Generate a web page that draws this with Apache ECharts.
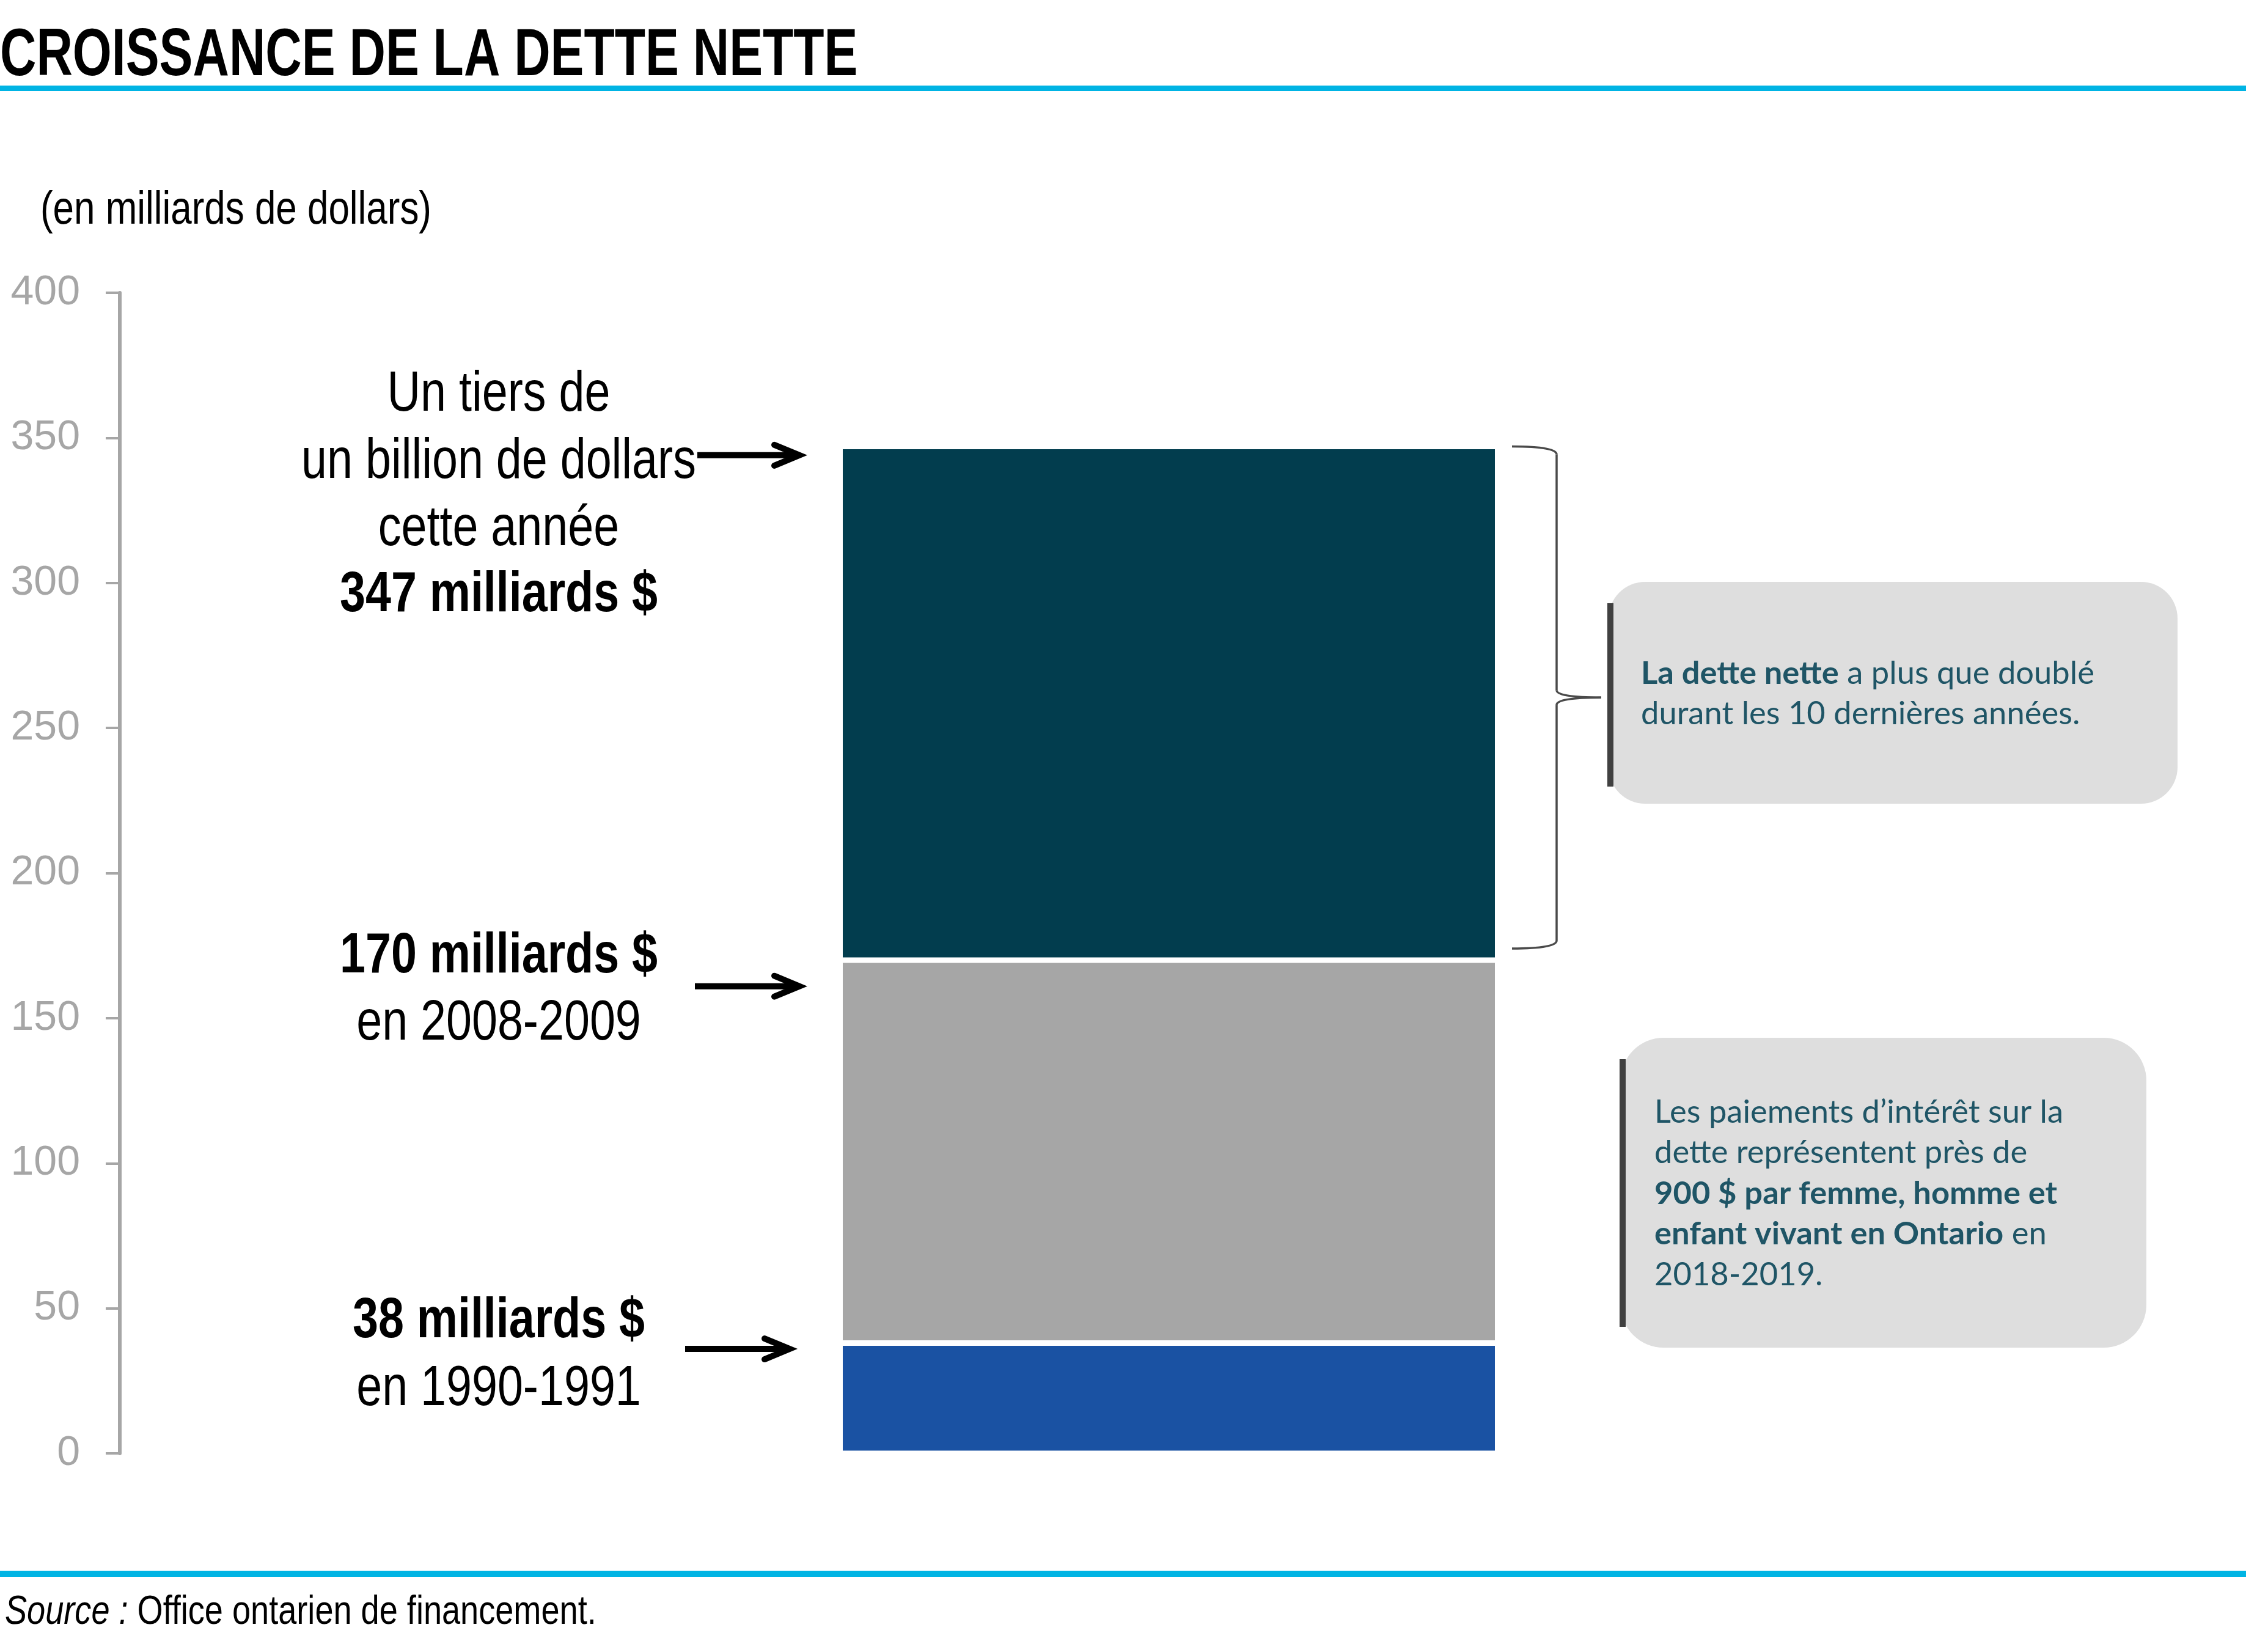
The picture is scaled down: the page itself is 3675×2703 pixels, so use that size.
<!DOCTYPE html>
<html>
<head>
<meta charset="utf-8">
<script src="https://cdn.jsdelivr.net/npm/echarts@6/dist/echarts.min.js"></script>
<style>
  html, body { margin: 0; padding: 0; background: #ffffff; }
  #chart { width: 3675px; height: 2703px; }
</style>
</head>
<body>
<div id="chart"></div>
<script>
// Net debt at three points in time (billions of dollars)
const categories = ['Dette nette'];
const periods = ['1990-1991', '2008-2009', '2018-2019'];
const debtTotals = [38, 170, 347];
const segmentColors = ['#1a52a3', '#a6a6a6', '#023d4e'];
const yTicks = [0, 50, 100, 150, 200, 250, 300, 350, 400];

// where each arrow points
const arrowValues = [36, 161, 344];
// the brace spans the last decade
const braceValues = [347, 174];

// no Arial Narrow here: squeeze Liberation Sans instead
const SANS = "'Liberation Sans', Arial, sans-serif";
const NARROW_X = 0.82;
const BOX_FONT = "Lato, 'Open Sans', sans-serif";
const BOX_SIZE = 52.5;
const TEXT_BLUE = '#1f5566';

const chart = echarts.init(document.getElementById('chart'));

// stacked pieces: each segment is the growth since the previous period
// (bar borders are drawn inside the rect, so 4.5 px gives a 9 px white gap)
const series = debtTotals.map((total, i) => ({
    name: periods[i],
    type: 'bar',
    stack: 'dette',
    barWidth: 1076,
    data: [total - (i > 0 ? debtTotals[i - 1] : 0)],
    itemStyle: {
        color: segmentColors[i],
        borderColor: '#ffffff',
        borderWidth: 4.5
    },
    silent: true
}));

chart.setOption({
    animation: false,
    grid: { left: 196, right: 46, top: 479, bottom: 325 },
    xAxis: {
        type: 'category',
        data: categories,
        show: false
    },
    yAxis: {
        type: 'value',
        min: yTicks[0],
        max: yTicks[yTicks.length - 1],
        interval: 50,
        axisLine: { show: true, lineStyle: { color: '#a6a6a6', width: 6 } },
        axisTick: { show: true, length: 23, lineStyle: { color: '#a6a6a6', width: 4 } },
        axisLabel: {
            margin: 65,
            color: '#a6a6a6',
            fontFamily: SANS,
            fontSize: 68
        },
        splitLine: { show: false }
    },
    series: series
});

function yPx(v) {
    return chart.convertToPixel({ yAxisIndex: 0 }, v);
}

function arrow(x1, x2, v) {
    const y = yPx(v);
    const tip = x2 - 11;
    return {
        type: 'group',
        children: [
            {
                type: 'line',
                shape: { x1: x1, y1: y, x2: tip - 4, y2: y },
                style: { stroke: '#000', lineWidth: 10 }
            },
            {
                type: 'polyline',
                shape: { points: [[tip - 41, y - 17], [tip, y], [tip - 41, y + 17]] },
                style: { stroke: '#000', lineWidth: 10, fill: null, lineCap: 'round', lineJoin: 'miter' }
            }
        ]
    };
}

function narrowText(text, x, y, size, opts) {
    opts = opts || {};
    return {
        type: 'text',
        x: x,
        y: y,
        scaleX: opts.scaleX || NARROW_X,
        style: {
            text: text,
            fontFamily: SANS,
            fontSize: size,
            fontWeight: opts.bold ? 'bold' : 'normal',
            fill: '#000',
            align: opts.align || 'left',
            verticalAlign: 'middle',
            rich: opts.rich
        }
    };
}

function boxText(text, x, y, lineHeight) {
    return {
        type: 'text', x: x, y: y,
        style: {
            text: text,
            fontFamily: BOX_FONT, fontSize: BOX_SIZE, lineHeight: lineHeight,
            fill: TEXT_BLUE, verticalAlign: 'middle',
            rich: {
                b: { fontFamily: BOX_FONT, fontSize: BOX_SIZE, lineHeight: lineHeight, fontWeight: 'bold', fill: TEXT_BLUE }
            }
        }
    };
}

function braceGroup() {
    const yTop = yPx(braceValues[0]);
    const yBot = yPx(braceValues[1]);
    const yMid = (yTop + yBot) / 2;
    const xTip = 2474, xSpine = 2547, xPoint = 2620;
    const st = { stroke: '#4a4a4a', lineWidth: 3.5, fill: null };
    const curve = (x1, y1, cx, cy, x2, y2) => ({
        type: 'bezierCurve',
        shape: { x1: x1, y1: y1, cpx1: cx, cpy1: cy, x2: x2, y2: y2 },
        style: st
    });
    const seg = (y1, y2) => ({
        type: 'line',
        shape: { x1: xSpine, y1: y1, x2: xSpine, y2: y2 },
        style: st
    });
    return {
        type: 'group',
        children: [
            curve(xTip, yTop, xSpine, yTop, xSpine, yTop + 13),
            seg(yTop + 13, yMid - 12),
            curve(xSpine, yMid - 12, xSpine, yMid, xPoint, yMid),
            curve(xPoint, yMid, xSpine, yMid, xSpine, yMid + 12),
            seg(yMid + 12, yBot - 13),
            curve(xSpine, yBot - 13, xSpine, yBot, xTip, yBot)
        ]
    };
}

chart.setOption({
    graphic: [
        // title and rules
        narrowText('CROISSANCE DE LA DETTE NETTE', 0, 93, 110, { bold: true, scaleX: 0.748 }),
        { type: 'rect', shape: { x: 0, y: 140, width: 3675, height: 9 }, style: { fill: '#00b4e4' } },
        { type: 'rect', shape: { x: 0, y: 2570, width: 3675, height: 10 }, style: { fill: '#00b4e4' } },
        narrowText('(en milliards de dollars)', 66, 345, 75.5),
        narrowText('{i|Source :} Office ontarien de financement.', 8, 2639, 66, {
            rich: { i: { fontFamily: SANS, fontSize: 66, fontStyle: 'italic', fill: '#000' } }
        }),

        // left-hand notes
        narrowText('Un tiers de', 816, 647, 92, { align: 'center' }),
        narrowText('un billion de dollars', 816, 757, 92, { align: 'center' }),
        narrowText('cette année', 816, 867, 92, { align: 'center' }),
        narrowText(debtTotals[2] + ' milliards $', 816, 975, 92, { align: 'center', bold: true }),
        narrowText(debtTotals[1] + ' milliards $', 816, 1566, 92, { align: 'center', bold: true }),
        narrowText('en ' + periods[1], 816, 1676, 92, { align: 'center' }),
        narrowText(debtTotals[0] + ' milliards $', 816, 2163, 92, { align: 'center', bold: true }),
        narrowText('en ' + periods[0], 816, 2274, 92, { align: 'center' }),

        arrow(1141, 1319, arrowValues[2]),
        arrow(1137, 1319, arrowValues[1]),
        arrow(1121, 1303, arrowValues[0]),

        // brace over the last ten years
        braceGroup(),

        // call-out boxes
        { type: 'rect', shape: { x: 2632, y: 952, width: 931, height: 363, r: 60 }, style: { fill: '#dedede' } },
        { type: 'rect', shape: { x: 2630, y: 987, width: 10, height: 300 }, style: { fill: '#404040' } },
        boxText('{b|La dette nette} a plus que doublé\ndurant les 10 dernières années.', 2685, 1135, 66),
        { type: 'rect', shape: { x: 2652, y: 1698, width: 860, height: 507, r: 70 }, style: { fill: '#dedede' } },
        { type: 'rect', shape: { x: 2650, y: 1733, width: 10, height: 438 }, style: { fill: '#404040' } },
        boxText('Les paiements d’intérêt sur la\ndette représentent près de\n' +
                '{b|900 $ par femme, homme et}\n{b|enfant vivant en Ontario} en\n2018-2019.', 2707, 1953, 66.5)
    ]
});
</script>
</body>
</html>
